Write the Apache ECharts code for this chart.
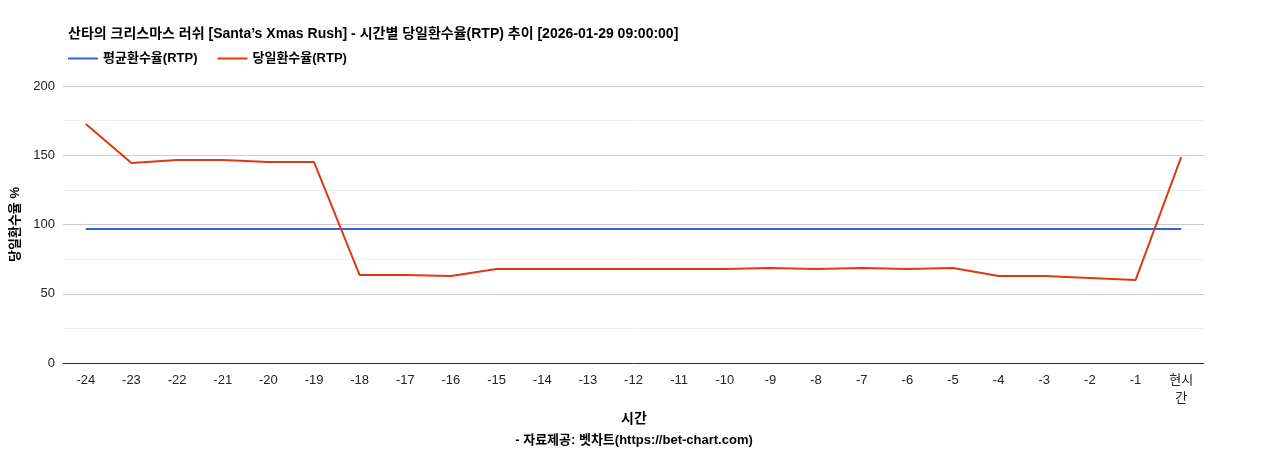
<!DOCTYPE html>
<html><head><meta charset="utf-8">
<script src="https://cdn.jsdelivr.net/npm/echarts@6/dist/echarts.min.js"></script>
<style>html,body{margin:0;padding:0;background:#fff}#c{width:1268px;height:450px}</style>
</head><body><div id="c"></div>
<script>
const categories = ['-24','-23','-22','-21','-20','-19','-18','-17','-16','-15','-14','-13','-12','-11','-10','-9','-8','-7','-6','-5','-4','-3','-2','-1','현시\n간'];
const avgRtp = [96.7,96.7,96.7,96.7,96.7,96.7,96.7,96.7,96.7,96.7,96.7,96.7,96.7,96.7,96.7,96.7,96.7,96.7,96.7,96.7,96.7,96.7,96.7,96.7,96.7];
const dayRtp = [172.6,144.4,146.6,146.6,145.1,145.1,63.5,63.5,62.8,67.9,67.9,67.9,67.9,67.9,67.9,68.6,67.9,68.6,67.9,68.6,62.8,62.8,61.4,59.9,148.7];
const yTicks = [0,50,100,150,200];
const F = 'Arial, "Liberation Sans", "Noto Sans CJK KR", sans-serif';
const chart = echarts.init(document.getElementById('c'));
chart.setOption({
  textStyle:{fontFamily:F},
  title:[
    {text:'산타의 크리스마스 러쉬 [Santa’s Xmas Rush] - 시간별 당일환수율(RTP) 추이 [2026-01-29 09:00:00]',left:63,top:22,textStyle:{fontSize:14,fontWeight:'bold',color:'#000',fontFamily:F}},
    {text:'시간',left:'center',top:407,textStyle:{fontSize:14,fontWeight:'bold',color:'#000',fontFamily:F}},
    {text:'- 자료제공: 벳차트(https://bet-chart.com)',left:'center',top:429,textStyle:{fontSize:13,fontWeight:'bold',color:'#000',fontFamily:F}}
  ],
  legend:{left:63,top:47,itemWidth:30,itemHeight:2,itemGap:20,icon:'rect',textStyle:{fontSize:13,fontWeight:'bold',color:'#000',fontFamily:F},data:['평균환수율(RTP)','당일환수율(RTP)']},
  grid:{left:63,right:64,top:86,bottom:87},
  xAxis:{type:'category',data:categories,boundaryGap:true,
    axisLine:{lineStyle:{color:'#333'}},axisTick:{show:false},
    axisLabel:{color:'#222',fontSize:13,interval:0,margin:8,lineHeight:18,fontFamily:F}},
  yAxis:{type:'value',min:yTicks[0],max:yTicks[yTicks.length-1],interval:50,
    name:'당일환수율 %',nameLocation:'middle',nameGap:40,nameTextStyle:{fontSize:13,fontWeight:'bold',color:'#000',fontFamily:F},
    axisLine:{show:false},axisTick:{show:false},axisLabel:{color:'#222',fontSize:13,fontFamily:F},
    splitLine:{lineStyle:{color:'#ccc'}},
    minorTick:{show:false,splitNumber:2},minorSplitLine:{show:true,lineStyle:{color:'#eee'}}},
  series:[
    {name:'평균환수율(RTP)',type:'line',data:avgRtp,symbol:'none',lineStyle:{width:2,color:'#3366cc'},itemStyle:{color:'#3366cc'}},
    {name:'당일환수율(RTP)',type:'line',data:dayRtp,symbol:'none',lineStyle:{width:2,color:'#dc3912'},itemStyle:{color:'#dc3912'}}
  ]
});
</script></body></html>
